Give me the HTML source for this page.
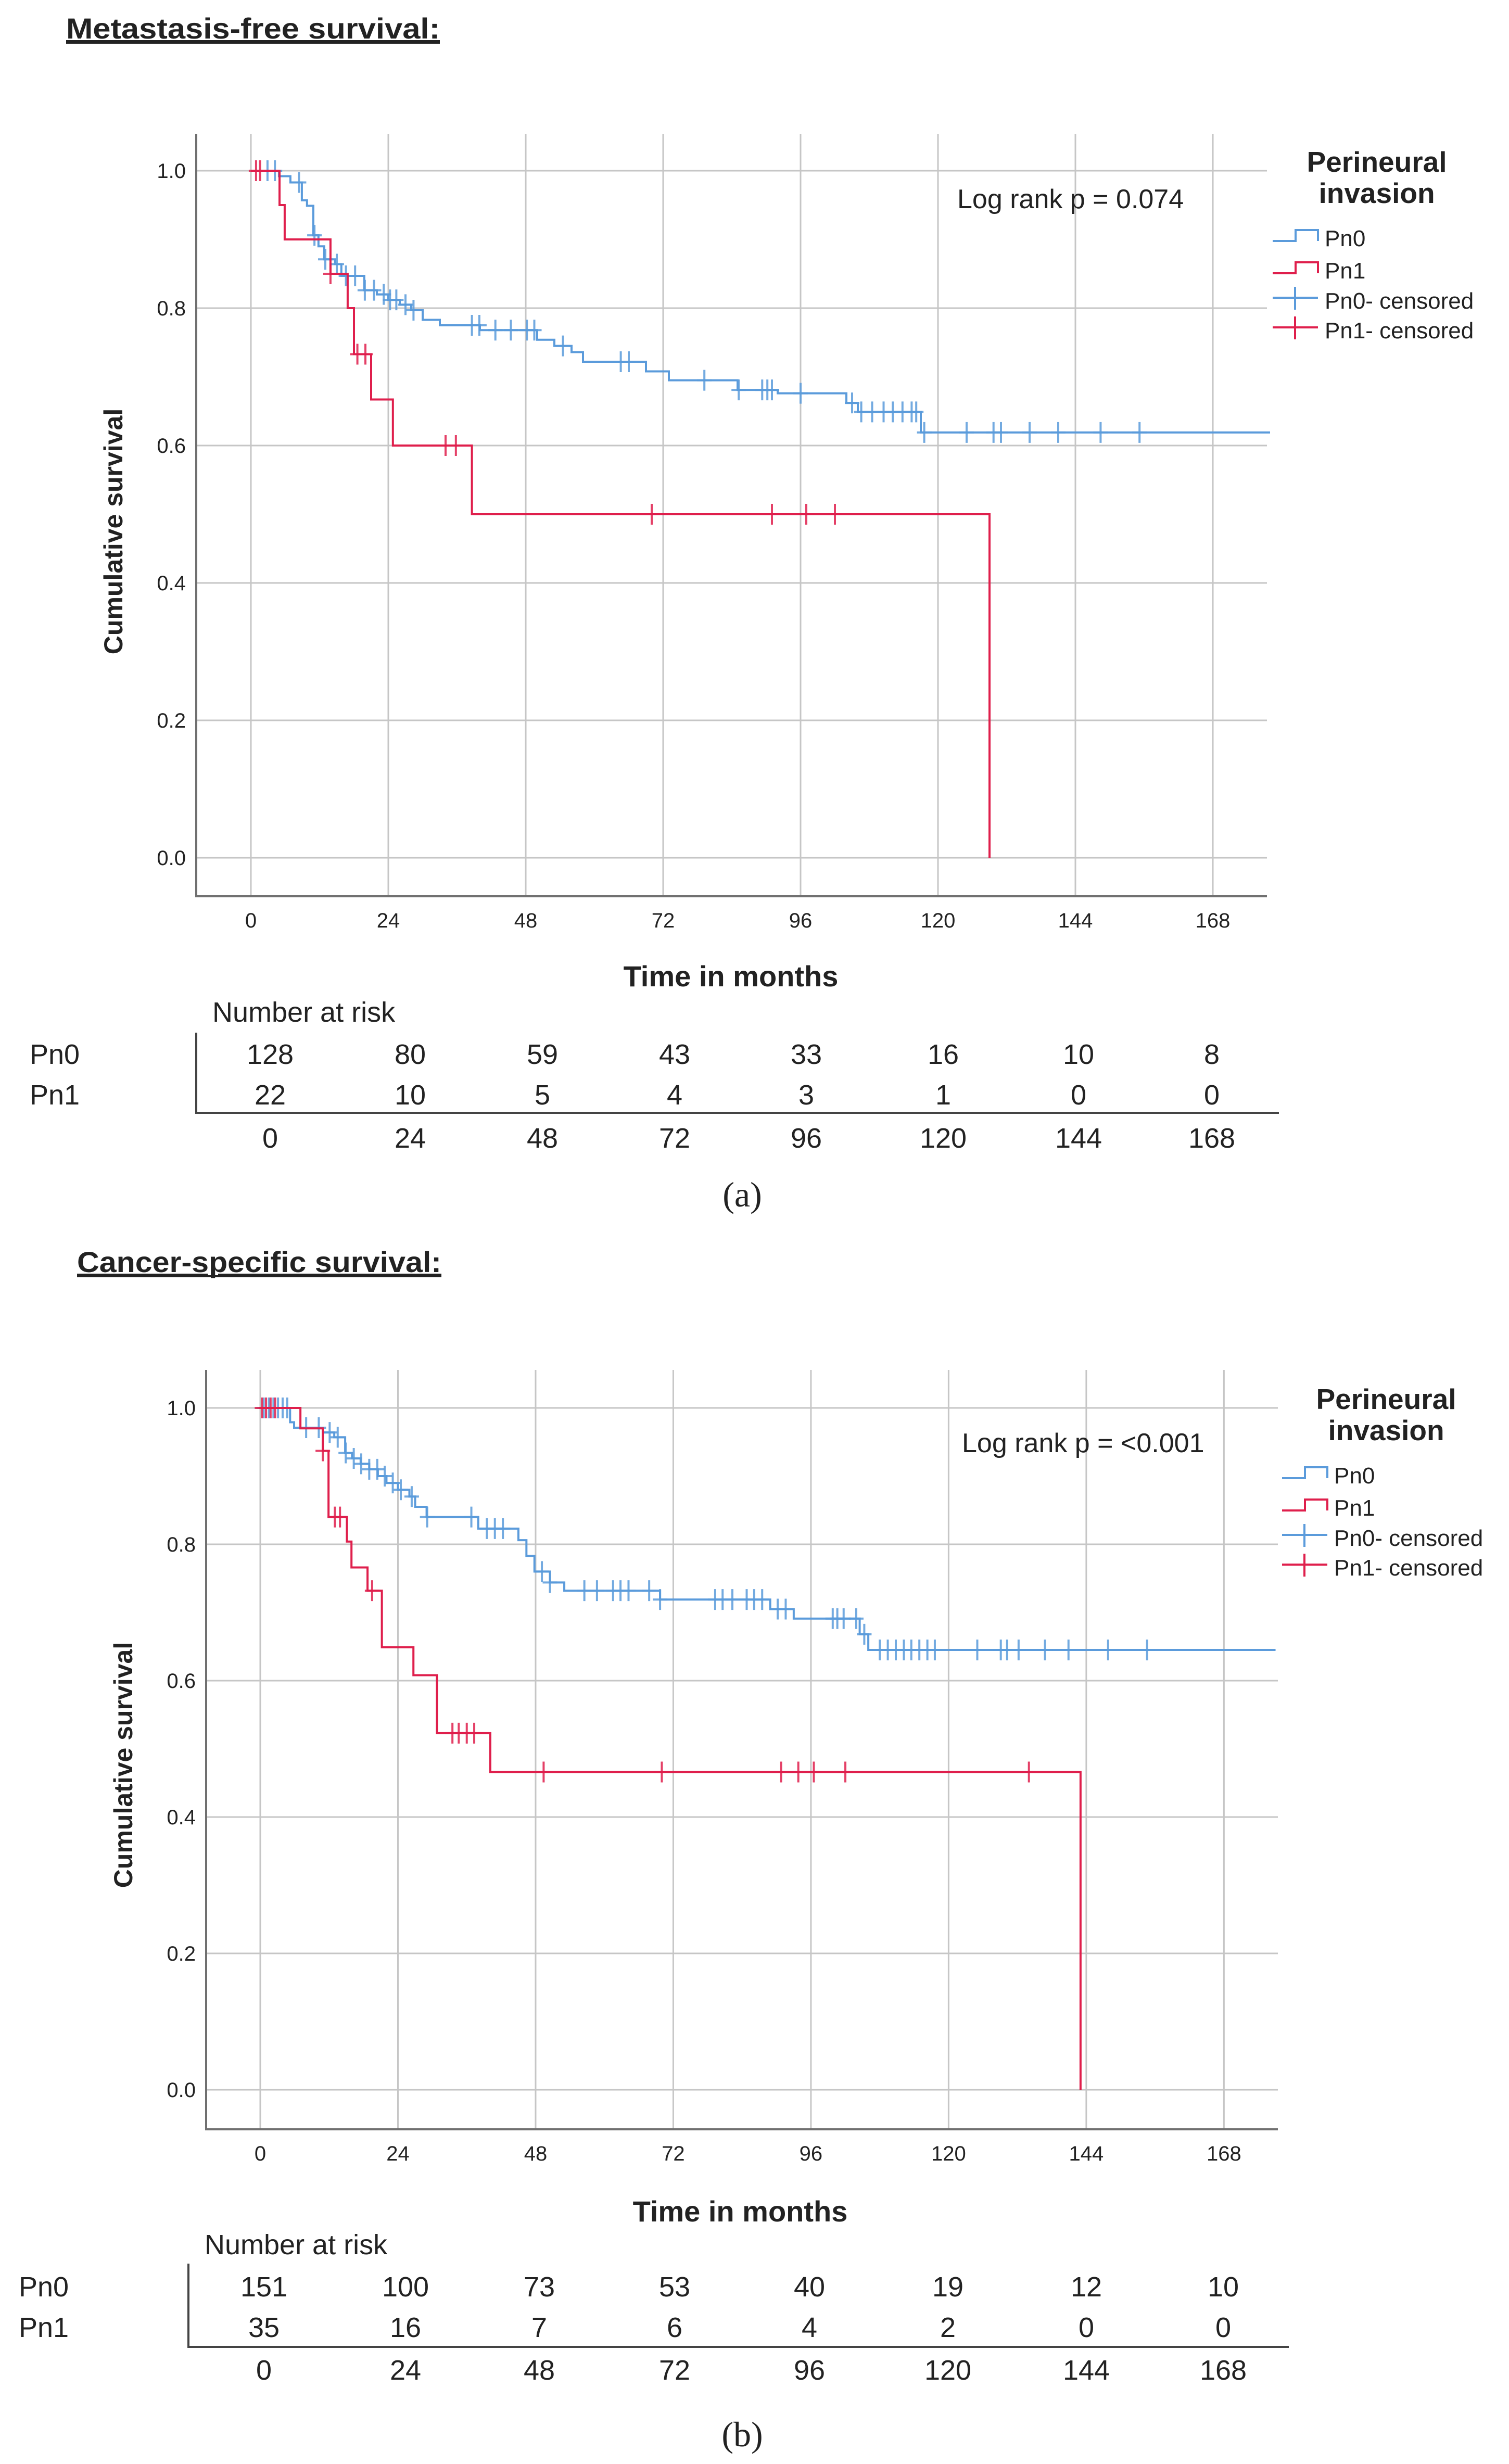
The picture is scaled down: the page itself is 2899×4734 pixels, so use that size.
<!DOCTYPE html>
<html><head><meta charset="utf-8">
<style>
html,body{margin:0;padding:0;background:#fff;}
svg{display:block;}
text{font-family:"Liberation Sans",sans-serif;fill:#222;}
</style></head>
<body>
<svg id="fig" width="2899" height="4734" viewBox="0 0 2899 4734" xmlns="http://www.w3.org/2000/svg">
<rect x="0" y="0" width="2899" height="4734" fill="#fff"/>
</svg>
<script>
// ===== Panel (a) data: Metastasis-free survival =====
const xTicks = [0,24,48,72,96,120,144,168];
const yTicks = [0.0,0.2,0.4,0.6,0.8,1.0];
const yTickLabels = ["0.0","0.2","0.4","0.6","0.8","1.0"];
const aPn0Times = [0,4.9,6.9,8.9,9.8,10.9,11.8,12.8,14.7,15.8,19.8,22,24,26,28,30,33,40,50,53,56,58,69,73,85,92,104,106,117];
const aPn0Surv  = [1,0.992,0.983,0.957,0.949,0.906,0.89,0.871,0.864,0.847,0.826,0.82,0.812,0.805,0.797,0.783,0.775,0.768,0.754,0.745,0.736,0.722,0.708,0.695,0.681,0.676,0.662,0.649,0.619];
const aPn0End = 178;
const aPn0Censor = [2.9,4.2,8.4,11.1,13,15,16.6,18.2,19.9,21.5,23.2,24.3,25.4,27,28.4,38.6,39.9,42.7,45.4,48.2,49.5,54.5,64.6,66,79.2,85.2,89.3,90.2,91,96,105,106.6,108.5,110.5,112.1,113.8,115.4,116.2,117.6,125,129.7,131,136,141,148.4,155.2];
const aPn1Times = [0,5,5.9,13.9,16.9,18,21,24.8,38.6,129];
const aPn1Surv  = [1,0.95,0.9,0.85,0.8,0.733,0.667,0.6,0.5,0];
const aPn1End = 129;
const aPn1Censor = [0.9,1.6,13.9,18.6,20,34,35.8,70,91,97,102];
const aRiskPn0 = [128,80,59,43,33,16,10,8];
const aRiskPn1 = [22,10,5,4,3,1,0,0];
// ===== Panel (b) data: Cancer-specific survival =====
const bPn0Times = [0,5.2,5.9,10.9,12.9,14.8,16,17.5,19,20.5,22,24,26,27,29,38,45,46.4,47.8,50.5,53,69.7,88.9,93,104.5,106];
const bPn0Surv  = [1,0.979,0.971,0.964,0.957,0.934,0.926,0.918,0.91,0.9,0.89,0.88,0.87,0.855,0.84,0.823,0.806,0.783,0.76,0.744,0.732,0.719,0.705,0.691,0.668,0.645];
const bPn0End = 177;
const bPn0Censor = [0.6,1.5,2.3,3.1,3.9,4.7,8,10.2,12.1,13.5,14.9,16.3,17.6,19,20.4,21.7,23.1,24.5,26.4,29.1,36.8,39.5,40.9,42.3,49.1,50.5,56.5,58.7,61.5,62.8,64.2,67.8,69.7,79.3,80.6,82.3,84.8,86.1,87.5,90.2,91.6,99.8,100.6,101.7,103.9,105.3,108,109.4,110.8,112.2,113.5,114.9,116.3,117.6,125,129.1,130.2,132.2,136.8,140.9,147.8,154.6];
const bPn1Times = [0,7,10.9,11.9,15.1,15.9,18.7,21.2,26.7,30.8,40.1,143];
const bPn1Surv  = [1,0.97,0.937,0.84,0.804,0.766,0.732,0.649,0.608,0.523,0.466,0];
const bPn1End = 143;
const bPn1Censor = [0.3,1,1.8,2.6,10.9,13,13.9,19.5,33.5,34.6,36,37.3,49.4,70,90.8,93.8,96.5,102,134];
const bRiskPn0 = [151,100,73,53,40,19,12,10];
const bRiskPn1 = [35,16,7,6,4,2,0,0];

const NS = "http://www.w3.org/2000/svg";
const svg = document.getElementById('fig');
const BLUE = "#5b9bdb", RED = "#df1f4c", GRID = "#c6c6c6", AXIS = "#707070";

function mk(tag, attrs, parent){
  const e = document.createElementNS(NS, tag);
  for (const k in attrs) e.setAttribute(k, attrs[k]);
  (parent||svg).appendChild(e);
  return e;
}
function survAt(times, surv, t){
  let v = surv[0];
  for (let i=0;i<times.length;i++){ if (times[i] <= t) v = surv[i]; }
  return v;
}

function drawPanel(P){
  const g = mk('g', {});
  
  
  const X = m => P.x0 + m * P.pxm;
  const Y = v => P.y0 - v * P.pxv;

  // title
  const t = mk('text', {x:P.titleX, y:P.titleY, 'font-size':56, 'font-weight':'bold', 'text-decoration':'underline', textLength:P.titleLen, lengthAdjust:'spacingAndGlyphs'}, g);
  t.textContent = P.title;
  
  
  mk('line', {x1:P.titleX, x2:P.titleX+P.titleLen, y1:P.titleY+8, y2:P.titleY+8, stroke:'#222', 'stroke-width':4}, g);

  // gridlines
  const grid = mk('g', {}, g);
  
  
  xTicks.forEach(m => {
    mk('line', {x1:X(m), x2:X(m), y1:P.top, y2:P.bottom, stroke:GRID, 'stroke-width':3}, grid);
  });
  yTicks.forEach(v => {
    mk('line', {x1:P.left, x2:P.right, y1:Y(v), y2:Y(v), stroke:GRID, 'stroke-width':3}, grid);
  });
  // axes
  const ax = mk('line', {x1:P.left, x2:P.left, y1:P.top, y2:P.bottom+2, stroke:AXIS, 'stroke-width':4}, g);
  
  
  const bx = mk('line', {x1:P.left-2, x2:P.right, y1:P.bottom, y2:P.bottom, stroke:AXIS, 'stroke-width':4}, g);
  
  

  // tick labels
  yTicks.forEach((v,i) => {
    const tl = mk('text', {x:P.left-20, y:Y(v)+14, 'font-size':40, 'text-anchor':'end'}, g);
    tl.textContent = yTickLabels[i];
    
    
  });
  xTicks.forEach(m => {
    const tl = mk('text', {x:X(m), y:P.bottom+60, 'font-size':40, 'text-anchor':'middle'}, g);
    tl.textContent = String(m);
    
    
  });

  // axis titles
  const yt = mk('text', {x:0, y:0, 'font-size':50, 'font-weight':'bold', 'text-anchor':'middle', transform:`translate(${P.ytX},${P.ytY}) rotate(-90)`}, g);
  yt.textContent = 'Cumulative survival';
  
  
  const xt = mk('text', {x:P.xtX, y:P.xtY, 'font-size':56, 'font-weight':'bold', 'text-anchor':'middle'}, g);
  xt.textContent = 'Time in months';
  
  

  // curves
  function curve(times, surv, end, censor, color, name){
    let d = `M${X(times[0])},${Y(surv[0])}`;
    for (let i=1;i<times.length;i++){
      d += ` H${X(times[i])} V${Y(surv[i])}`;
    }
    d += ` H${X(end)}`;
    const p = mk('path', {d:d, fill:'none', stroke:color, 'stroke-width':4}, g);
    
    
    censor.forEach(c => {
      const v = survAt(times, surv, c);
      const cx = X(c), cy = Y(v);
      const cm = mk('path', {d:`M${cx-14},${cy} H${cx+14} M${cx},${cy-20} V${cy+20}`, stroke:color, 'stroke-width':4, fill:'none', opacity:0.85}, g);
      
      
    });
  }
  curve(P.pn0T, P.pn0S, P.pn0E, P.pn0C, BLUE, 'pn0');
  curve(P.pn1T, P.pn1S, P.pn1E, P.pn1C, RED, 'pn1');

  // log rank
  const lr = mk('text', {x:P.lrX, y:P.lrY, 'font-size':52}, g);
  lr.textContent = P.lr;
  
  

  // legend
  const lg = mk('g', {}, g);
  
  
  const lt1 = mk('text', {x:P.lgX+100, y:P.lgY, 'font-size':55, 'font-weight':'bold', 'text-anchor':'middle'}, lg);
  lt1.textContent = 'Perineural';
  
  
  const lt2 = mk('text', {x:P.lgX+100, y:P.lgY+60, 'font-size':55, 'font-weight':'bold', 'text-anchor':'middle'}, lg);
  lt2.textContent = 'invasion';
  
  
  const entries = [['Pn0',BLUE,'step'],['Pn1',RED,'step'],['Pn0- censored',BLUE,'cross'],['Pn1- censored',RED,'cross']];
  const eb = [P.lgY+143, P.lgY+205, P.lgY+263, P.lgY+320];
  entries.forEach((e,i) => {
    const by = eb[i];
    const ix = P.lgX - 100;
    if (e[2]==='step'){
      const ic = mk('path', {d:`M${ix},${by-10} H${ix+44} V${by-31} H${ix+87} V${by-10}`, fill:'none', stroke:e[1], 'stroke-width':4}, lg);
      
      
    } else {
      const ic = mk('path', {d:`M${ix},${by-21} H${ix+87} M${ix+43},${by-42} V${by+2}`, fill:'none', stroke:e[1], 'stroke-width':4}, lg);
      
      
    }
    const tx = mk('text', {x:ix+100, y:by, 'font-size':44}, lg);
    tx.textContent = e[0];
    
    
  });

  // risk table
  const rt = mk('g', {}, g);
  
  
  const nh = mk('text', {x:P.rtNX, y:P.rtNY, 'font-size':54}, rt);
  nh.textContent = 'Number at risk';
  
  
  const l0 = mk('text', {x:P.rtLX, y:P.rtR0, 'font-size':54}, rt);
  l0.textContent = 'Pn0';
  
  
  const l1 = mk('text', {x:P.rtLX, y:P.rtR1, 'font-size':54}, rt);
  l1.textContent = 'Pn1';
  
  
  mk('path', {d:`M${P.rtVX},${P.rtVT} V${P.rtLine} H${P.rtEnd}`, fill:'none', stroke:'#444', 'stroke-width':4}, rt);
  xTicks.forEach((m,i) => {
    const cx = P.rtCols[i];
    const a = mk('text', {x:cx, y:P.rtR0, 'font-size':54, 'text-anchor':'middle'}, rt);
    a.textContent = String(P.risk0[i]);
    
    
    const b = mk('text', {x:cx, y:P.rtR1, 'font-size':54, 'text-anchor':'middle'}, rt);
    b.textContent = String(P.risk1[i]);
    
    
    const c = mk('text', {x:cx, y:P.rtT, 'font-size':54, 'text-anchor':'middle'}, rt);
    c.textContent = String(m);
    
    
  });

  const cap = mk('text', {x:P.capX, y:P.capY, 'font-size':68, 'text-anchor':'middle', style:'font-family:"Liberation Serif",serif'}, g);
  cap.textContent = P.cap;
  
  
}

drawPanel({
  id:'metastasis-free', title:'Metastasis-free survival:', titleX:127, titleY:74, titleLen:718,
  left:377, right:2434, top:257, bottom:1722, x0:482, pxm:11.0, y0:1648, pxv:1320,
  ytX:235, ytY:1021, xtX:1404, xtY:1895,
  pn0T:aPn0Times, pn0S:aPn0Surv, pn0E:aPn0End, pn0C:aPn0Censor,
  pn1T:aPn1Times, pn1S:aPn1Surv, pn1E:aPn1End, pn1C:aPn1Censor,
  lr:'Log rank p = 0.074', lrX:1839, lrY:400,
  lgX:2545, lgY:330,
  rtNX:408, rtNY:1963, rtLX:57, rtR0:2044, rtR1:2122, rtVX:377, rtVT:1984, rtLine:2138, rtEnd:2457, rtT:2205,
  rtCols:[519,788,1042,1296,1549,1812,2072,2328], risk0:aRiskPn0, risk1:aRiskPn1,
  cap:'(a)', capX:1426, capY:2318
});
drawPanel({
  id:'cancer-specific', title:'Cancer-specific survival:', titleX:148, titleY:2444, titleLen:700,
  left:396, right:2455, top:2632, bottom:4091, x0:500, pxm:11.02, y0:4015, pxv:1310,
  ytX:254, ytY:3391, xtX:1422, xtY:4268,
  pn0T:bPn0Times, pn0S:bPn0Surv, pn0E:bPn0End, pn0C:bPn0Censor,
  pn1T:bPn1Times, pn1S:bPn1Surv, pn1E:bPn1End, pn1C:bPn1Censor,
  lr:'Log rank p = <0.001', lrX:1848, lrY:2790,
  lgX:2563, lgY:2707,
  rtNX:393, rtNY:4331, rtLX:36, rtR0:4412, rtR1:4490, rtVX:362, rtVT:4349, rtLine:4509, rtEnd:2476, rtT:4572,
  rtCols:[507,779,1036,1296,1555,1821,2087,2350], risk0:bRiskPn0, risk1:bRiskPn1,
  cap:'(b)', capX:1426, capY:4700
});
</script>
</body></html>
